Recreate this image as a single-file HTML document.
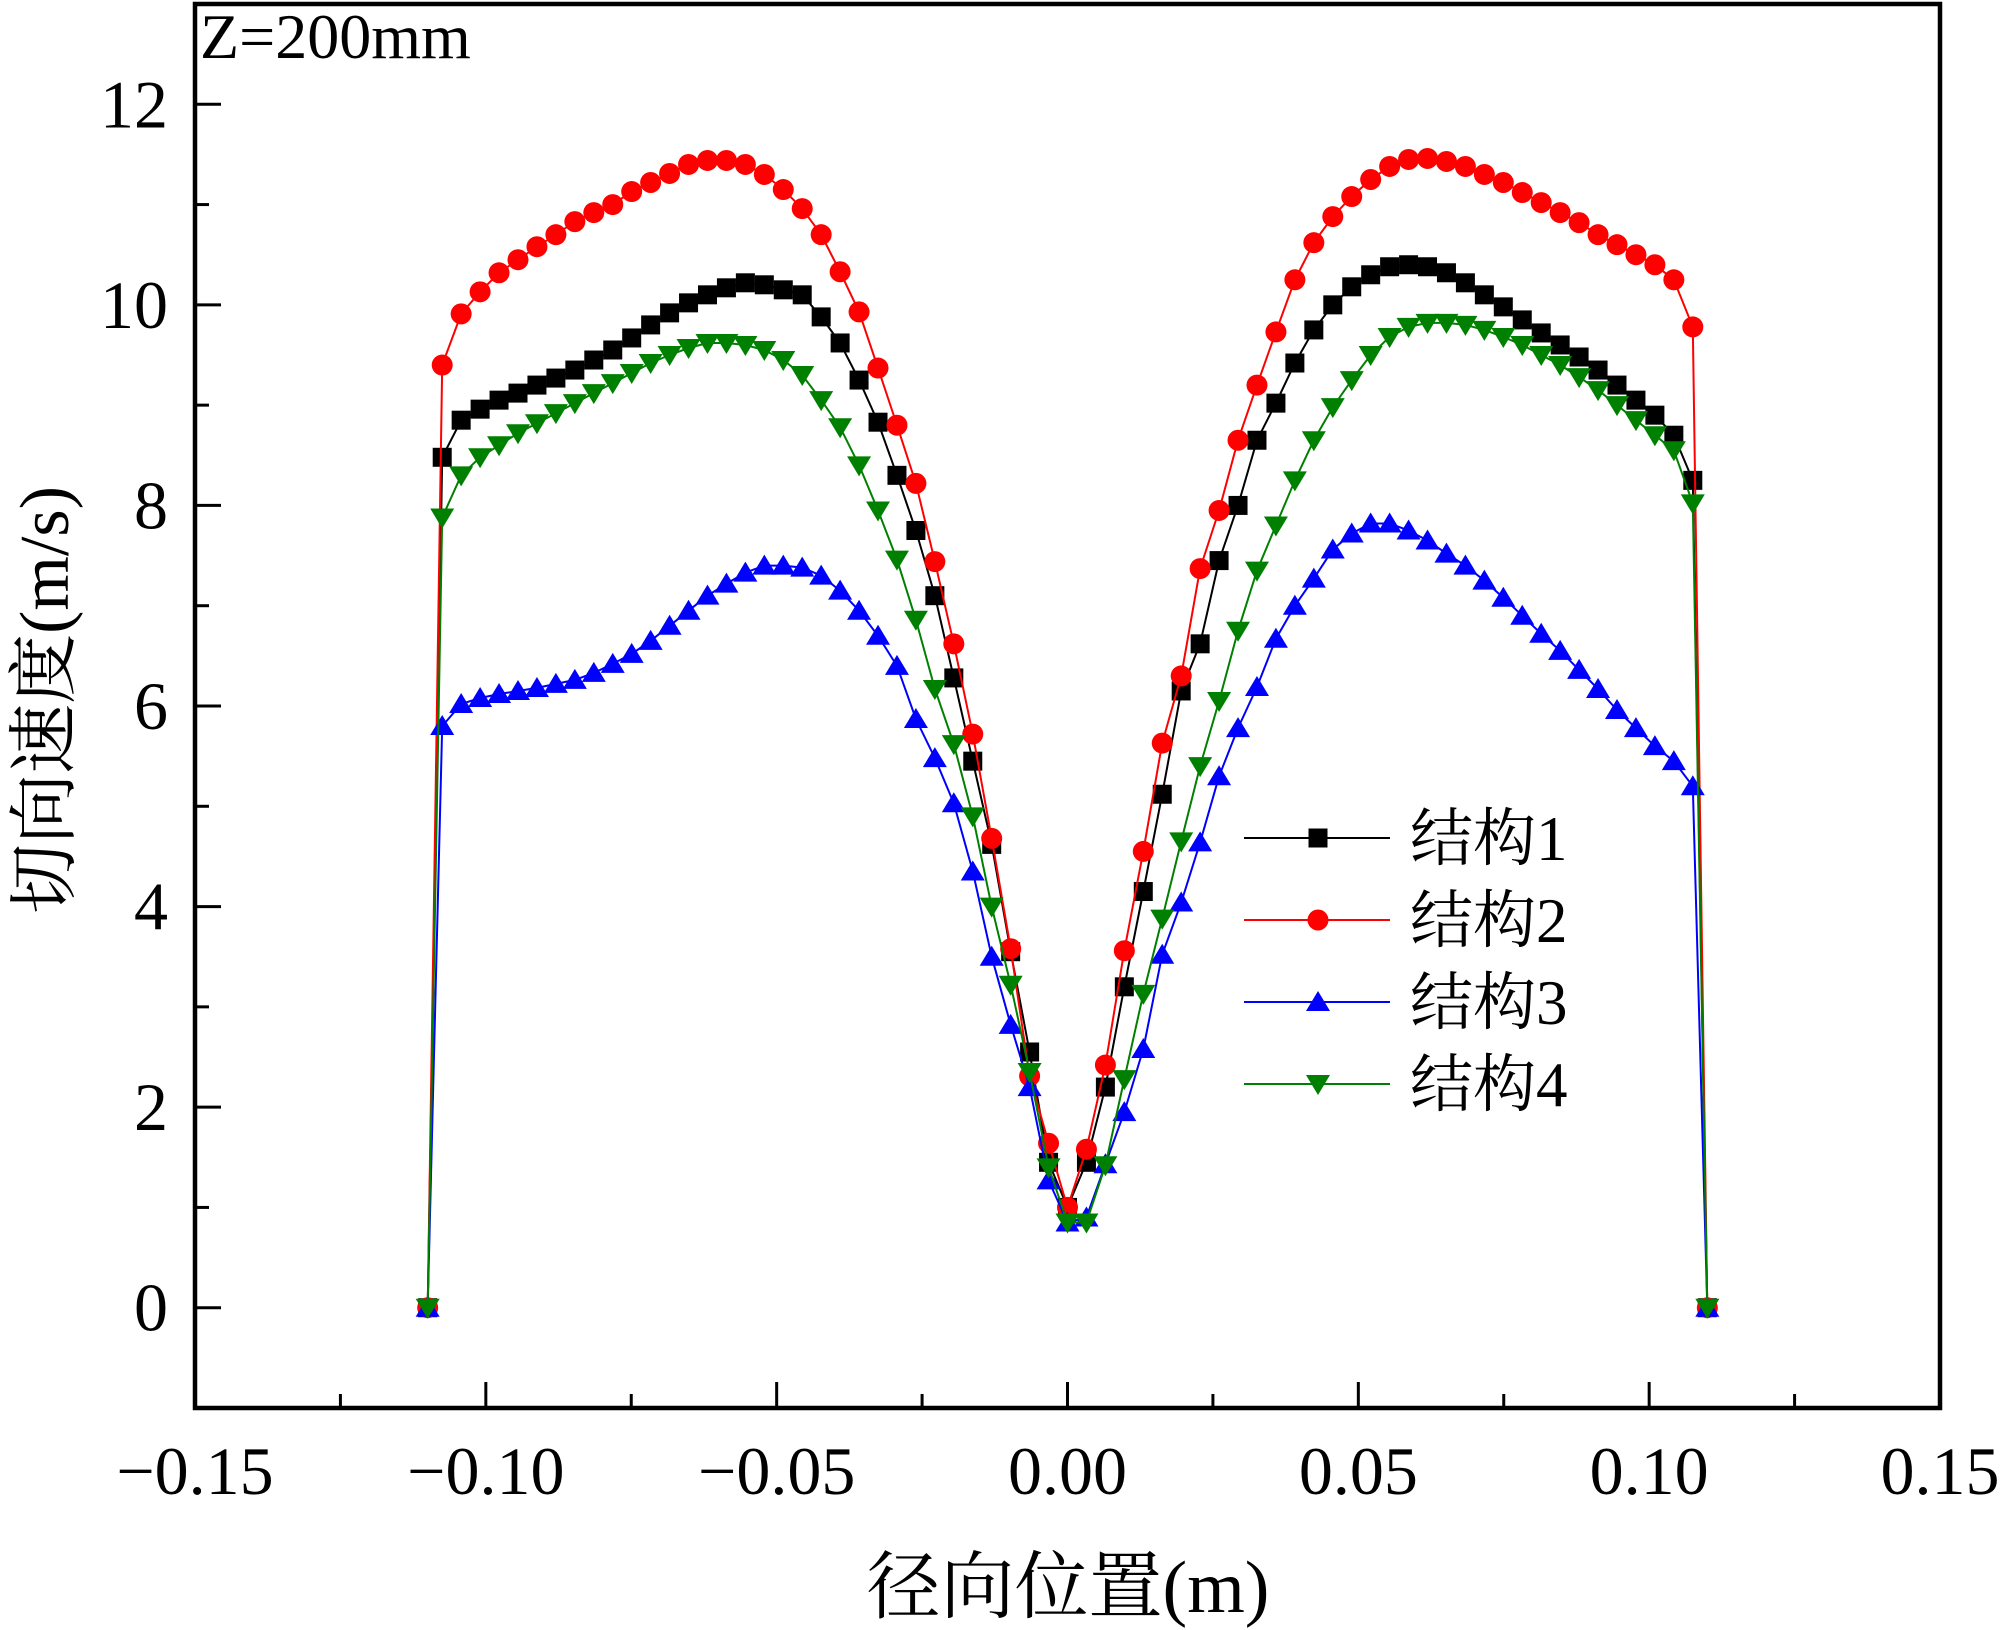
<!DOCTYPE html>
<html><head><meta charset="utf-8"><style>
html,body{margin:0;padding:0;background:#fff}
svg{display:block}
text{font-family:"Liberation Serif","Noto Serif CJK SC","Noto Sans CJK SC",serif;fill:#000}
</style></head><body>
<svg id="chart" width="2000" height="1630" viewBox="0 0 2000 1630" xmlns="http://www.w3.org/2000/svg">
<g id="plot"></g>
<g id="axes"></g>
<text x="200" y="58" font-size="64">Z=200mm</text>
<text x="1068" y="1612" font-size="74" text-anchor="middle">径向位置(m)</text>
<text transform="translate(68,700) rotate(-90)" font-size="70" text-anchor="middle">切向速度(m/s)</text>
<g id="legend"></g>
</svg>
<script>
const seriesNames = ["结构1","结构2","结构3","结构4"];
const s1Left = [8.48,8.85,8.96,9.05,9.12,9.2,9.27,9.35,9.45,9.55,9.67,9.8,9.92,10.02,10.1,10.17,10.22,10.2,10.15,10.1,9.88,9.62,9.25,8.83,8.3,7.75,7.1,6.28,5.45,4.62,3.55,2.55,1.45,1.0];
const s1Right = [1.45,2.2,3.2,4.15,5.12,6.15,6.62,7.45,8.0,8.65,9.02,9.42,9.75,10.0,10.18,10.3,10.38,10.4,10.38,10.32,10.22,10.1,9.98,9.85,9.72,9.6,9.48,9.35,9.2,9.05,8.9,8.7,8.25];
const s2Left = [9.4,9.91,10.13,10.32,10.45,10.58,10.7,10.83,10.92,11.0,11.13,11.22,11.31,11.4,11.44,11.44,11.4,11.3,11.15,10.96,10.7,10.33,9.93,9.37,8.8,8.22,7.44,6.62,5.72,4.68,3.58,2.31,1.64,1.0];
const s2Right = [1.58,2.42,3.56,4.55,5.63,6.3,7.37,7.95,8.65,9.2,9.73,10.25,10.62,10.88,11.08,11.25,11.38,11.45,11.46,11.43,11.38,11.3,11.22,11.12,11.02,10.92,10.82,10.7,10.6,10.5,10.4,10.25,9.78];
const s3Left = [5.8,6.02,6.08,6.12,6.15,6.18,6.22,6.26,6.33,6.42,6.52,6.65,6.8,6.95,7.1,7.22,7.33,7.4,7.4,7.38,7.3,7.15,6.95,6.7,6.4,5.87,5.48,5.03,4.35,3.5,2.82,2.2,1.27,0.85];
const s3Right = [0.9,1.43,1.95,2.58,3.52,4.04,4.64,5.3,5.78,6.19,6.67,7.0,7.27,7.56,7.72,7.82,7.82,7.75,7.65,7.52,7.4,7.25,7.08,6.9,6.72,6.55,6.36,6.17,5.96,5.78,5.6,5.45,5.2];
const s4Left = [7.88,8.3,8.48,8.6,8.72,8.82,8.92,9.02,9.12,9.22,9.32,9.42,9.5,9.57,9.62,9.62,9.6,9.55,9.45,9.3,9.05,8.78,8.4,7.95,7.46,6.86,6.17,5.62,4.9,4.0,3.22,2.35,1.4,0.85];
const s4Right = [0.85,1.42,2.28,3.13,3.88,4.65,5.4,6.05,6.75,7.35,7.8,8.25,8.65,8.98,9.25,9.5,9.68,9.78,9.82,9.82,9.8,9.75,9.68,9.6,9.5,9.4,9.28,9.15,9.0,8.85,8.7,8.55,8.02];
const wallValue = 0;
const wallX = 0.11;
const innerX = 0.1075;
const xTicks = [-0.15,-0.10,-0.05,0.00,0.05,0.10,0.15];
const xTickLabels = ["\u22120.15","\u22120.10","\u22120.05","0.00","0.05","0.10","0.15"];
const yTicks = [0,2,4,6,8,10,12];
const yTickLabels = ["0","2","4","6","8","10","12"];

const NS="http://www.w3.org/2000/svg";
const L=195,R=1940,T=4,B=1408;
const xmin=-0.15,xmax=0.15,ymin=-1,ymax=13;
function X(v){return L+(v-xmin)/(xmax-xmin)*(R-L);}
function Y(v){return B-(v-ymin)/(ymax-ymin)*(B-T);}
function mk(tag,attrs,parent){const e=document.createElementNS(NS,tag);for(const k in attrs)e.setAttribute(k,attrs[k]);parent.appendChild(e);return e;}

function buildSeries(left,right){
  const step=innerX/(left.length-1);
  const xs=[-wallX],ys=[wallValue];
  left.forEach((v,i)=>{xs.push(-innerX+i*step);ys.push(v);});
  right.forEach((v,i)=>{xs.push((i+1)*step);ys.push(v);});
  xs.push(wallX);ys.push(wallValue);
  return {xs,ys};
}
const colors=["#000000","#ff0000","#0000ff","#008000"];
const shapes=["square","circle","tri-up","tri-down"];
const data=[buildSeries(s1Left,s1Right),buildSeries(s2Left,s2Right),buildSeries(s3Left,s3Right),buildSeries(s4Left,s4Right)];
const plot=document.getElementById('plot');

function marker(shape,cx,cy,color,parent){
  let e;
  if(shape==="square") e=mk('rect',{x:cx-9.5,y:cy-9.5,width:19,height:19,fill:color},parent);
  else if(shape==="circle") e=mk('circle',{cx:cx,cy:cy,r:10.5,fill:color},parent);
  else if(shape==="tri-up") e=mk('polygon',{points:`${cx},${cy-11} ${cx-12},${cy+9} ${cx+12},${cy+9}`,fill:color},parent);
  else e=mk('polygon',{points:`${cx},${cy+11} ${cx-12},${cy-9} ${cx+12},${cy-9}`,fill:color},parent);
  return e;
}

data.forEach((d,si)=>{
  const g=mk('g',{},plot);
  
  
  const pts=d.xs.map((x,i)=>X(x).toFixed(1)+','+Y(d.ys[i]).toFixed(1)).join(' ');
  const line=mk('polyline',{points:pts,fill:'none',stroke:colors[si],'stroke-width':2},g);
  
  
  d.xs.forEach((x,i)=>{
    const m=marker(shapes[si],X(x),Y(d.ys[i]),colors[si],g);
    
    
  });
});

const axes=document.getElementById('axes');
const frame=mk('rect',{x:L,y:T,width:R-L,height:B-T,fill:'none',stroke:'#000','stroke-width':4.5},axes);


xTicks.forEach((v,i)=>{
  const t=mk('line',{x1:X(v),x2:X(v),y1:B,y2:B-26,stroke:'#000','stroke-width':3},axes);
  
  
  if(i<xTicks.length-1){
    const mv=(v+xTicks[i+1])/2;
    const m=mk('line',{x1:X(mv),x2:X(mv),y1:B,y2:B-14,stroke:'#000','stroke-width':3},axes);
    
    
  }
  const lb=mk('text',{x:X(v),y:1494,'font-size':68,'text-anchor':'middle'},axes);
  lb.textContent=xTickLabels[i];
  
  
});
yTicks.forEach((v,i)=>{
  const t=mk('line',{x1:L,x2:L+26,y1:Y(v),y2:Y(v),stroke:'#000','stroke-width':3},axes);
  
  
  const mv=v+1;
  const m=mk('line',{x1:L,x2:L+14,y1:Y(mv),y2:Y(mv),stroke:'#000','stroke-width':3},axes);
  
  
  const lb=mk('text',{x:168,y:Y(v)+23,'font-size':68,'text-anchor':'end'},axes);
  lb.textContent=yTickLabels[i];
  
  
});

const legend=document.getElementById('legend');
const legY=[838,920,1002,1084];
seriesNames.forEach((n,i)=>{
  const g=mk('g',{},legend);
  
  
  mk('line',{x1:1244,x2:1390,y1:legY[i],y2:legY[i],stroke:colors[i],'stroke-width':2},g);
  marker(shapes[i],1318,legY[i],colors[i],g);
  const t=mk('text',{x:1410,y:legY[i]+22,'font-size':63},g);
  t.textContent=n;
});
</script>
</body></html>
